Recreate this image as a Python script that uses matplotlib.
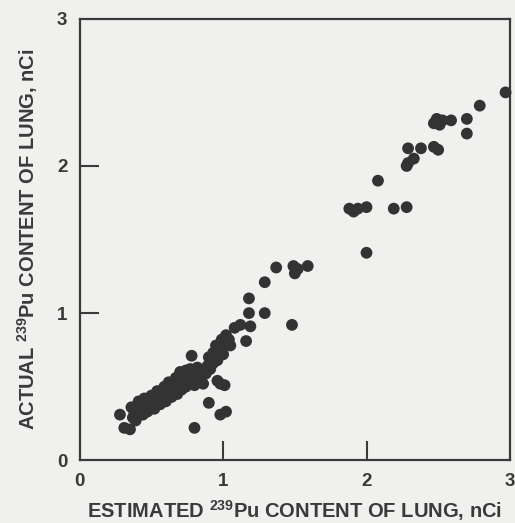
import matplotlib.pyplot as plt

plt.rcParams['font.family'] = ['Liberation Sans', 'DejaVu Sans']
plt.rcParams['mathtext.fontset'] = 'custom'
plt.rcParams['mathtext.rm'] = 'Liberation Sans:bold'
plt.rcParams['mathtext.default'] = 'rm'

# estimated vs actual lung content, nCi
est = [0.28, 0.31, 0.35, 0.37, 0.38, 0.40, 0.42, 0.43, 0.45, 0.47, 0.48, 0.50,
       0.52, 0.53, 0.55, 0.56, 0.58, 0.60, 0.61, 0.63, 0.64, 0.66, 0.67, 0.69,
       0.70, 0.72, 0.73, 0.75, 0.76, 0.78, 0.79, 0.81, 0.84, 0.80, 0.78, 0.86,
       0.89, 0.90, 0.92, 0.93, 0.95, 0.97, 0.98, 1.00, 1.02, 1.04, 1.05, 0.96,
       1.01, 0.90, 0.98, 1.02, 0.80, 0.86, 0.98,
       0.40, 0.44, 0.47, 0.41, 0.45, 0.50, 0.52, 0.56, 0.54, 0.59, 0.60, 0.64,
       0.62, 0.67, 0.68, 0.71, 0.70, 0.74, 0.74, 0.77, 0.82, 0.83, 0.88, 0.91,
       0.93, 0.95, 0.99, 1.02, 0.96, 1.00, 0.36, 0.39,
       1.08, 1.12, 1.16, 1.18, 1.18, 1.19, 1.29, 1.29, 1.48,
       1.37, 1.49, 1.50, 1.52, 1.59,
       2.00, 1.88, 1.91, 1.94, 2.00, 2.19, 2.28, 2.08,
       2.28, 2.29, 2.33, 2.29, 2.38, 2.47, 2.50,
       2.47, 2.51, 2.49, 2.53, 2.59, 2.70, 2.70, 2.79, 2.97]
act = [0.31, 0.22, 0.21, 0.29, 0.33, 0.36, 0.32, 0.38, 0.35, 0.40, 0.34, 0.38,
       0.42, 0.37, 0.41, 0.45, 0.43, 0.47, 0.42, 0.50, 0.46, 0.52, 0.48, 0.55,
       0.50, 0.57, 0.53, 0.58, 0.55, 0.59, 0.53, 0.57, 0.60, 0.51, 0.71, 0.61,
       0.64, 0.70, 0.68, 0.73, 0.72, 0.76, 0.78, 0.77, 0.80, 0.82, 0.78, 0.54,
       0.51, 0.39, 0.31, 0.33, 0.22, 0.52, 0.52,
       0.30, 0.31, 0.33, 0.40, 0.42, 0.44, 0.35, 0.38, 0.47, 0.50, 0.40, 0.43,
       0.53, 0.56, 0.45, 0.48, 0.60, 0.61, 0.50, 0.62, 0.63, 0.55, 0.59, 0.62,
       0.66, 0.78, 0.82, 0.85, 0.68, 0.72, 0.36, 0.27,
       0.90, 0.92, 0.81, 1.10, 1.00, 0.91, 1.21, 1.00, 0.92,
       1.31, 1.32, 1.27, 1.30, 1.32,
       1.41, 1.71, 1.69, 1.71, 1.72, 1.71, 1.72, 1.90,
       2.00, 2.02, 2.05, 2.12, 2.12, 2.13, 2.11,
       2.29, 2.28, 2.32, 2.31, 2.31, 2.32, 2.22, 2.41, 2.50]

ticks = [0, 1, 2, 3]
ink = '#3a3a3a'

fig = plt.figure(figsize=(5.15, 5.23), dpi=100, facecolor='#f0f0ee')
ax = fig.add_axes([0.155, 0.12, 0.835, 0.844])
ax.set_facecolor('#f0f0ee')

ax.scatter(est, act, s=72, color='#333333', edgecolors='none', clip_on=False, zorder=3)

ax.set_xlim(0, 3)
ax.set_ylim(0, 3)
ax.set_xticks(ticks)
ax.set_yticks(ticks)
ax.tick_params(direction='in', length=14, width=1.5, color=ink, labelsize=13.5,
               labelcolor=ink, pad=9)
for t in [ax.xaxis.get_major_ticks()[0], ax.xaxis.get_major_ticks()[-1],
          ax.yaxis.get_major_ticks()[0], ax.yaxis.get_major_ticks()[-1]]:
    t.tick1line.set_visible(False)
for lab in ax.get_xticklabels() + ax.get_yticklabels():
    lab.set_fontweight('bold')
for sp in ax.spines.values():
    sp.set_linewidth(1.6)
    sp.set_color(ink)

ax.set_xlabel('ESTIMATED $^{239}$Pu CONTENT OF LUNG, nCi', fontsize=14.5,
              fontweight='bold', color=ink, labelpad=6)
ax.set_ylabel('ACTUAL $^{239}$Pu CONTENT OF LUNG, nCi', fontsize=14.5,
              fontweight='bold', color=ink, labelpad=12)

fig.savefig('out.png', dpi=100, facecolor=fig.get_facecolor())
